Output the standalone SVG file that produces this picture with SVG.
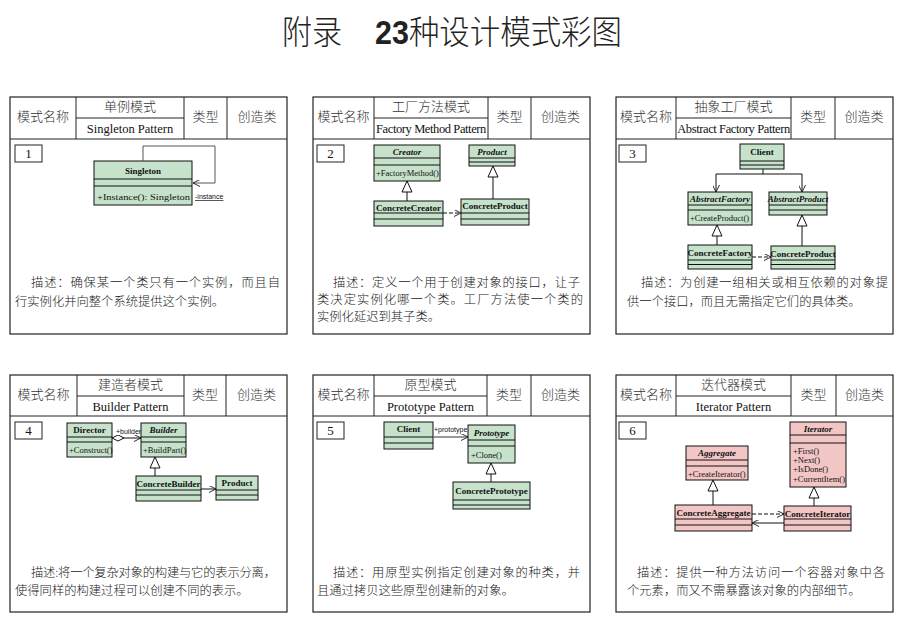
<svg xmlns="http://www.w3.org/2000/svg" width="907" height="618" viewBox="0 0 907 618">
<style>
.panel{fill:#fff;stroke:#222;stroke-width:1.2}
.ln{stroke:#222;stroke-width:1;fill:none}
.hd{font-family:"Noto Sans CJK SC",sans-serif;font-weight:300;font-size:13px;fill:#333;text-anchor:middle}
.en{font-family:"Liberation Serif",serif;font-size:12.5px;fill:#111;text-anchor:middle}
.num{font-family:"Liberation Serif",serif;font-size:13px;fill:#111;text-anchor:middle}
.cg{fill:#c6e2cb;stroke:#111;stroke-width:1}
.cp{fill:#f3c6c6;stroke:#111;stroke-width:1}
.cl{stroke:#111;stroke-width:1}
.cn{font-family:"Liberation Serif",serif;font-weight:bold;font-size:9px;fill:#111;text-anchor:middle}
.ci{font-style:italic}
.m{font-family:"Liberation Serif",serif;font-size:8.5px;fill:#111}
.lbl{font-family:"Liberation Sans",sans-serif;font-size:7px;fill:#111}
.desc{font-family:"Noto Sans CJK SC",sans-serif;font-weight:300;font-size:12.3px;fill:#222}
.dash{stroke-dasharray:4,2}
.title{font-family:"Noto Sans CJK SC",sans-serif;font-weight:300;font-size:33px;fill:#222}
</style>
<defs>
<marker id="open" viewBox="0 0 8 8" refX="8" refY="4" markerWidth="7" markerHeight="7" markerUnits="userSpaceOnUse" orient="auto"><path d="M0,0 L8,4 L0,8" fill="none" stroke="#111" stroke-width="1"/></marker>
<marker id="tri" viewBox="0 0 12 12" refX="11.5" refY="6" markerWidth="12" markerHeight="12" markerUnits="userSpaceOnUse" orient="auto"><path d="M0.5,1 L11.5,6 L0.5,11 Z" fill="#fff" stroke="#111" stroke-width="1"/></marker>
<marker id="dia" viewBox="0 0 13 7" refX="0.5" refY="3.5" markerWidth="13" markerHeight="7" markerUnits="userSpaceOnUse" orient="auto"><path d="M0.5,3.5 L6.5,0.5 L12.5,3.5 L6.5,6.5 Z" fill="#fff" stroke="#111" stroke-width="1"/></marker>
</defs>
<rect width="907" height="618" fill="#fff"/>
<text class="title" x="282" y="44" textLength="60" lengthAdjust="spacingAndGlyphs">附录</text>
<text class="title" x="375" y="44" textLength="247" lengthAdjust="spacingAndGlyphs"><tspan font-family="Liberation Sans,sans-serif" font-weight="bold">23</tspan>种设计模式彩图</text>

<!-- Panel 1 -->
<g id="panel1">
<rect class="panel" x="10" y="97" width="277" height="237"/>
<path class="ln" d="M10,139H287M76,97V139M184,97V139M227,97V139M76,118H184"/>
<text class="hd" x="43" y="121">模式名称</text>
<text class="hd" x="130" y="111">单例模式</text>
<text class="en" x="130" y="133">Singleton Pattern</text>
<text class="hd" x="205.5" y="121">类型</text>
<text class="hd" x="257" y="121">创造类</text>
<rect class="ln" x="15" y="145" width="27" height="17" fill="#fff"/>
<text class="num" x="28.5" y="158">1</text>
<text class="desc" x="31" y="287" textLength="249" lengthAdjust="spacing">描述：确保某一个类只有一个实例，而且自</text>
<text class="desc" x="15" y="306">行实例化并向整个系统提供这个实例。</text>
</g>
<g id="singleton">
<rect class="cg" x="94" y="161" width="98" height="44"/>
<path class="cl" d="M94,179H192M94,186H192"/>
<text class="cn" x="143" y="174" font-size="11">Singleton</text>
<text class="m" x="97" y="200" font-size="11" textLength="93" lengthAdjust="spacingAndGlyphs">+Instance(): Singleton</text>
</g>

<!-- Panel 2 -->
<g id="panel2">
<rect class="panel" x="313" y="97" width="277" height="237"/>
<path class="ln" d="M313,139H590M374,97V139M488,97V139M531,97V139M374,118H488"/>
<text class="hd" x="343.5" y="121">模式名称</text>
<text class="hd" x="431" y="111">工厂方法模式</text>
<text class="en" x="431" y="133" letter-spacing="-0.4">Factory Method Pattern</text>
<text class="hd" x="509.5" y="121">类型</text>
<text class="hd" x="560.5" y="121">创造类</text>
<rect class="ln" x="317" y="145" width="27" height="17" fill="#fff"/>
<text class="num" x="330.5" y="158">2</text>
<text class="desc" x="333" y="287" textLength="247" lengthAdjust="spacing">描述：定义一个用于创建对象的接口，让子</text>
<text class="desc" x="317" y="304" textLength="266" lengthAdjust="spacing">类决定实例化哪一个类。工厂方法使一个类的</text>
<text class="desc" x="317" y="321">实例化延迟到其子类。</text>
</g>
<g id="creator">
<rect class="cg" x="374" y="145" width="66" height="36"/>
<path class="cl" d="M374,158H440M374,165H440"/>
<text class="cn ci" x="407" y="155">Creator</text>
<text class="m" x="376" y="176">+FactoryMethod()</text>
</g>
<g id="product2">
<rect class="cg" x="469" y="145" width="46" height="21"/>
<path class="cl" d="M469,158H515M469,162H515"/>
<text class="cn ci" x="492" y="155">Product</text>
</g>
<g id="concretecreator">
<rect class="cg" x="374" y="201" width="69" height="25"/>
<path class="cl" d="M374,213H443M374,219H443"/>
<text class="cn" x="408.5" y="210.5">ConcreteCreator</text>
</g>
<g id="concreteproduct2">
<rect class="cg" x="461" y="199" width="68" height="26"/>
<path class="cl" d="M461,213H529M461,219H529"/>
<text class="cn" x="495" y="209">ConcreteProduct</text>
</g>

<!-- Panel 3 -->
<g id="panel3">
<rect class="panel" x="616" y="97" width="277" height="237"/>
<path class="ln" d="M616,139H893M676,97V139M791,97V139M835,97V139M676,118H791"/>
<text class="hd" x="646" y="121">模式名称</text>
<text class="hd" x="733.5" y="111">抽象工厂模式</text>
<text class="en" x="733.5" y="133" letter-spacing="-0.4">Abstract Factory Pattern</text>
<text class="hd" x="813" y="121">类型</text>
<text class="hd" x="864" y="121">创造类</text>
<rect class="ln" x="619" y="145" width="27" height="17" fill="#fff"/>
<text class="num" x="632.5" y="158">3</text>
<text class="desc" x="641" y="287" textLength="247" lengthAdjust="spacing">描述：为创建一组相关或相互依赖的对象提</text>
<text class="desc" x="627" y="306">供一个接口，而且无需指定它们的具体类。</text>
</g>
<g id="client3">
<rect class="cg" x="740" y="144" width="44" height="25"/>
<path class="cl" d="M740,161H784M740,165H784"/>
<text class="cn" x="762" y="155">Client</text>
</g>
<g id="abstractfactory">
<rect class="cg" x="688" y="192" width="64" height="33"/>
<path class="cl" d="M688,205H752M688,210H752"/>
<text class="cn ci" x="720" y="202">AbstractFactory</text>
<text class="m" x="690" y="221">+CreateProduct()</text>
</g>
<g id="abstractproduct">
<rect class="cg" x="769" y="192" width="58" height="23"/>
<path class="cl" d="M769,205H827M769,210H827"/>
<text class="cn ci" x="798" y="202">AbstractProduct</text>
</g>
<g id="concretefactory">
<rect class="cg" x="688" y="245" width="64" height="24"/>
<path class="cl" d="M688,260H752M688,264.5H752"/>
<text class="cn" x="720" y="256">ConcreteFactory</text>
</g>
<g id="concreteproduct3">
<rect class="cg" x="771" y="246" width="64" height="23"/>
<path class="cl" d="M771,260H835M771,264.5H835"/>
<text class="cn" x="803" y="257">ConcreteProduct</text>
</g>

<!-- Panel 4 -->
<g id="panel4">
<rect class="panel" x="10" y="375" width="277" height="237"/>
<path class="ln" d="M10,416H287M77,375V416M184,375V416M226,375V416M77,396H184"/>
<text class="hd" x="43.5" y="399">模式名称</text>
<text class="hd" x="130.5" y="389">建造者模式</text>
<text class="en" x="130.5" y="411">Builder Pattern</text>
<text class="hd" x="205" y="399">类型</text>
<text class="hd" x="256.5" y="399">创造类</text>
<rect class="ln" x="15" y="422" width="27" height="17" fill="#fff"/>
<text class="num" x="28.5" y="435">4</text>
<text class="desc" x="31" y="577" textLength="245" lengthAdjust="spacing">描述:将一个复杂对象的构建与它的表示分离，</text>
<text class="desc" x="15" y="595">使得同样的构建过程可以创建不同的表示。</text>
</g>
<g id="director">
<rect class="cg" x="67" y="423" width="45" height="34"/>
<path class="cl" d="M67,437H112M67,442H112"/>
<text class="cn" x="89.5" y="433">Director</text>
<text class="m" x="69" y="453">+Construct()</text>
</g>
<g id="builder">
<rect class="cg" x="141" y="423" width="45" height="34"/>
<path class="cl" d="M141,437H186M141,442H186"/>
<text class="cn ci" x="163.5" y="433">Builder</text>
<text class="m" x="143" y="453">+BuildPart()</text>
</g>
<g id="concretebuilder">
<rect class="cg" x="136" y="476" width="65" height="25"/>
<path class="cl" d="M136,490H201M136,495H201"/>
<text class="cn" x="168.5" y="487">ConcreteBuilder</text>
</g>
<g id="product4">
<rect class="cg" x="216" y="476" width="42" height="24"/>
<path class="cl" d="M216,490H258M216,495H258"/>
<text class="cn" x="237" y="486">Product</text>
</g>

<!-- Panel 5 -->
<g id="panel5">
<rect class="panel" x="313" y="375" width="277" height="237"/>
<path class="ln" d="M313,416H590M374,375V416M487,375V416M531,375V416M374,396H487"/>
<text class="hd" x="343.5" y="399">模式名称</text>
<text class="hd" x="430.5" y="389">原型模式</text>
<text class="en" x="430.5" y="411">Prototype Pattern</text>
<text class="hd" x="509" y="399">类型</text>
<text class="hd" x="560.5" y="399">创造类</text>
<rect class="ln" x="317" y="422" width="27" height="17" fill="#fff"/>
<text class="num" x="330.5" y="435">5</text>
<text class="desc" x="333" y="577" textLength="247" lengthAdjust="spacing">描述：用原型实例指定创建对象的种类，并</text>
<text class="desc" x="317" y="595">且通过拷贝这些原型创建新的对象。</text>
</g>
<g id="client5">
<rect class="cg" x="384" y="422" width="49" height="27"/>
<path class="cl" d="M384,437H433M384,443H433"/>
<text class="cn" x="408.5" y="432">Client</text>
</g>
<g id="prototype">
<rect class="cg" x="468" y="425" width="47" height="38"/>
<path class="cl" d="M468,440H515M468,446H515"/>
<text class="cn ci" x="491.5" y="436">Prototype</text>
<text class="m" x="471" y="458">+Clone()</text>
</g>
<g id="concreteprototype">
<rect class="cg" x="453" y="482" width="77" height="27"/>
<path class="cl" d="M453,500H530M453,505H530"/>
<text class="cn" x="491.5" y="494">ConcretePrototype</text>
</g>

<!-- Panel 6 -->
<g id="panel6">
<rect class="panel" x="616" y="375" width="277" height="237"/>
<path class="ln" d="M616,416H893M676,375V416M791,375V416M836,375V416M676,396H791"/>
<text class="hd" x="646" y="399">模式名称</text>
<text class="hd" x="733.5" y="389">迭代器模式</text>
<text class="en" x="733.5" y="411">Iterator Pattern</text>
<text class="hd" x="813.5" y="399">类型</text>
<text class="hd" x="864.5" y="399">创造类</text>
<rect class="ln" x="619" y="422" width="27" height="17" fill="#fff"/>
<text class="num" x="632.5" y="435">6</text>
<text class="desc" x="637" y="577" textLength="248" lengthAdjust="spacing">描述：提供一种方法访问一个容器对象中各</text>
<text class="desc" x="627" y="595">个元素，而又不需暴露该对象的内部细节。</text>
</g>
<g id="iterator">
<rect class="cp" x="790" y="422" width="56" height="65"/>
<path class="cl" d="M790,435H846M790,443H846"/>
<text class="cn ci" x="818" y="432">Iterator</text>
<text class="m" x="793" y="454">+First()</text>
<text class="m" x="793" y="463">+Next()</text>
<text class="m" x="793" y="472">+IsDone()</text>
<text class="m" x="793" y="482">+CurrentItem()</text>
</g>
<g id="aggregate">
<rect class="cp" x="686" y="446" width="62" height="34"/>
<path class="cl" d="M686,460H748M686,466H748"/>
<text class="cn ci" x="717" y="456">Aggregate</text>
<text class="m" x="688" y="477">+CreateIterator()</text>
</g>
<g id="concreteaggregate">
<rect class="cp" x="675" y="505" width="77" height="26"/>
<path class="cl" d="M675,519H752M675,525H752"/>
<text class="cn" x="713.5" y="516">ConcreteAggregate</text>
</g>
<g id="concreteiterator">
<rect class="cp" x="784" y="506" width="67" height="25"/>
<path class="cl" d="M784,519H851M784,525H851"/>
<text class="cn" x="817.5" y="517">ConcreteIterator</text>
</g>

<!-- Connectors -->
<g id="connectors" fill="none" stroke="#111" stroke-width="1">
<path d="M143,161V146H215V183H193" stroke="#555" marker-end="url(#open)"/>
<path d="M407,201V181" marker-end="url(#tri)"/>
<path d="M493,199V166" marker-end="url(#tri)"/>
<path d="M443,213H461" class="dash" marker-end="url(#open)"/>
<path d="M763,169V174M716,174H802"/>
<path d="M716,174V192" marker-end="url(#open)"/>
<path d="M802,174V192" marker-end="url(#open)"/>
<path d="M717,245V225" marker-end="url(#tri)"/>
<path d="M802,246V215" marker-end="url(#tri)"/>
<path d="M752,257H771" class="dash" marker-end="url(#open)"/>
<path d="M112,438H141" marker-start="url(#dia)" marker-end="url(#open)"/>
<path d="M155,476V457" marker-end="url(#tri)"/>
<path d="M201,489H216" marker-end="url(#open)"/>
<path d="M433,437H468" stroke="#777" stroke-width="1.5" marker-end="url(#open)"/>
<path d="M491,482V463" marker-end="url(#tri)"/>
<path d="M713,505V480" marker-end="url(#tri)"/>
<path d="M814,506V487" marker-end="url(#tri)"/>
<path d="M752,514H784" class="dash" marker-end="url(#open)"/>
<path d="M784,523H752" marker-end="url(#open)"/>
</g>
<g id="labels">
<text class="lbl" x="195" y="199" text-decoration="underline">-instance</text>
<text class="lbl" x="116" y="434">+builder</text>
<text class="lbl" x="434" y="432">+prototype</text>
</g>
</svg>
